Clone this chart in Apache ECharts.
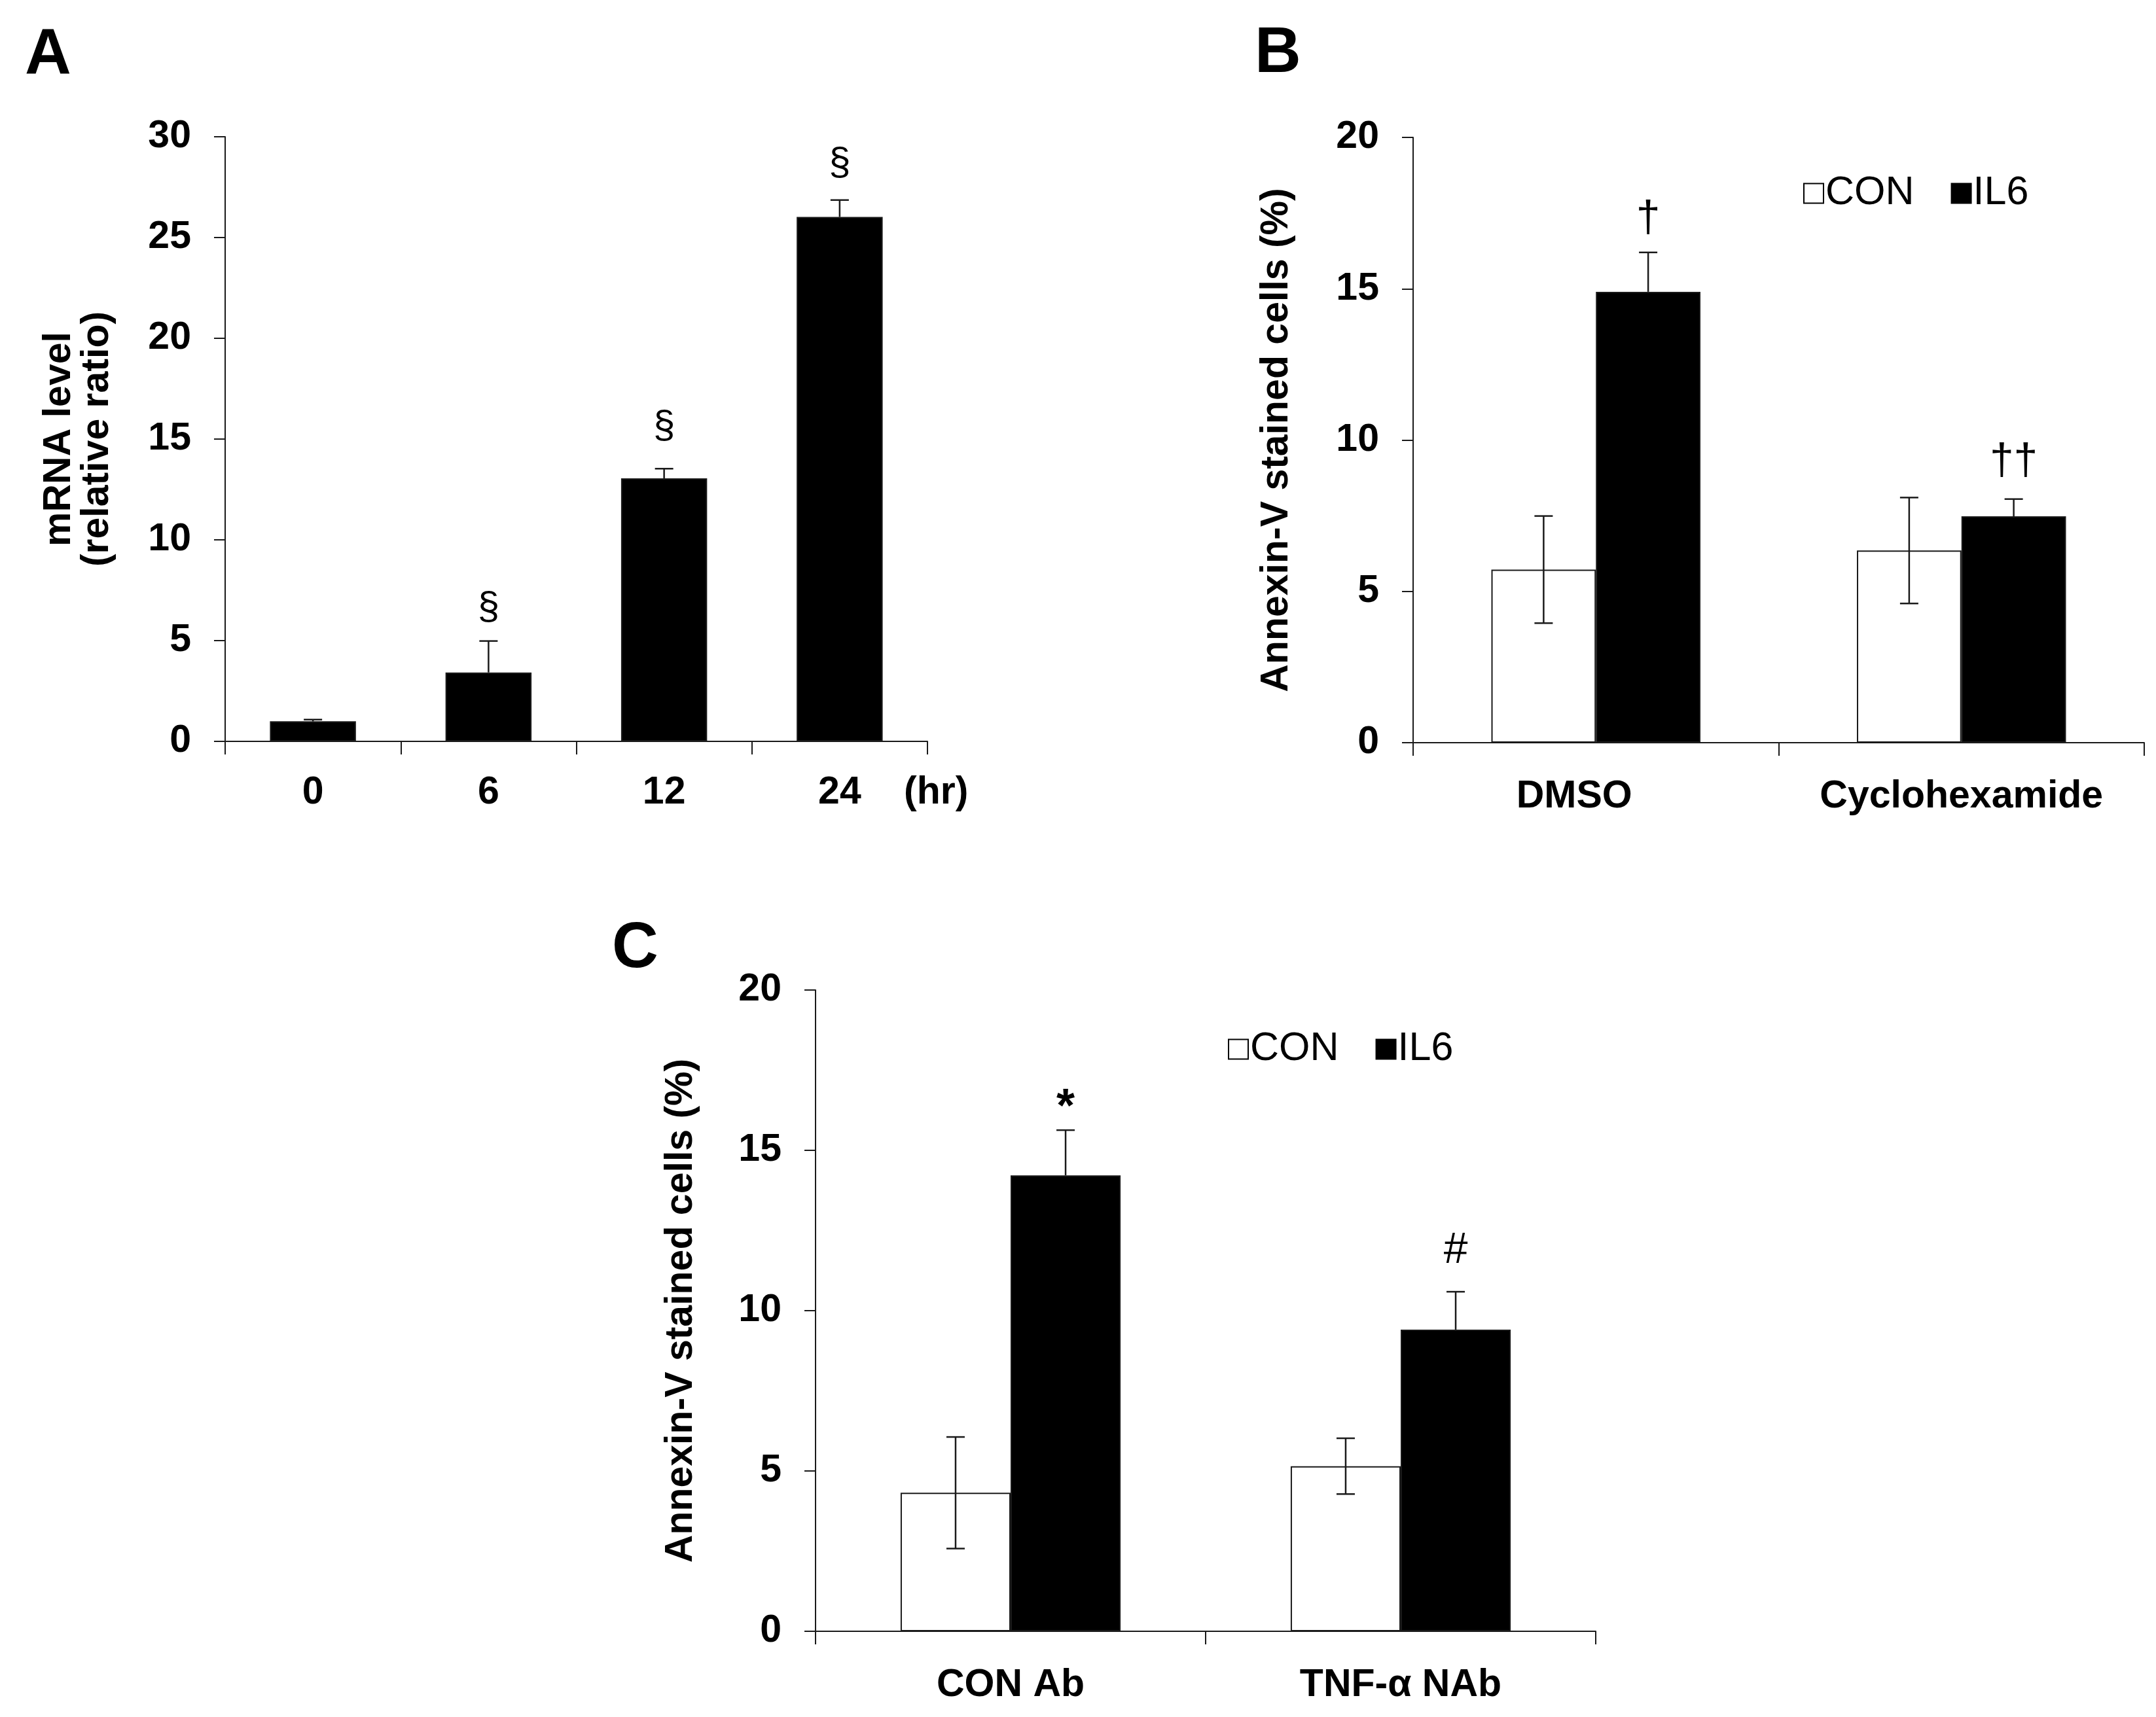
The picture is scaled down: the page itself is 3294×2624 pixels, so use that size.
<!DOCTYPE html>
<html>
<head>
<meta charset="utf-8">
<title>IL6 figure</title>
<script src="https://cdn.jsdelivr.net/npm/echarts@6/dist/echarts.min.js"></script>
<style>
  html, body { margin:0; padding:0; background:#fff; }
  #chart { width:3294px; height:2624px; }
</style>
</head>
<body>
<div id="chart"></div>
<script>
// panel A : mRNA time course
var timesA = ['0', '6', '12', '24'];
var mrnaMean = [1.0, 3.42, 13.05, 26.02];
var mrnaErr = [0.08, 1.56, 0.48, 0.84];
var mrnaMark = ['', '§', '§', '§'];
var mrnaMarkAt = [null, 6.6, 15.6, 28.65];

// panel B : DMSO / cyclohexamide
var groupsB = ['DMSO', 'Cyclohexamide'];
var conB = [5.72, 6.35];
var conBErr = [1.77, 1.75];
var il6B = [14.9, 7.48];
var il6BErr = [1.3, 0.57];
var markB = ['†', '††'];
var markBAt = [17.3, 9.27];

// panel C : antibodies
var groupsC = ['CON Ab', 'TNF-α NAb'];
var conC = [4.32, 5.15];
var conCErr = [1.74, 0.87];
var il6C = [14.22, 9.41];
var il6CErr = [1.41, 1.18];
var markC = ['*', '#'];
var markCAt = [16.3, 11.87];

var ticksA = [0, 30, 5];
var ticksBC = [0, 20, 5];

var FONT = "'Liberation Sans', Arial, sans-serif";
var INK = '#1a1a1a';

var chart = echarts.init(document.getElementById('chart'));

function yAxisOf(gi, t, name, gap){
  return {
    type:'value', gridIndex:gi, min:t[0], max:t[1], interval:t[2],
    name:name, nameLocation:'middle', nameGap:gap, nameRotate:90,
    nameTextStyle:{fontFamily:FONT, fontWeight:'bold', fontSize:59, lineHeight:58, color:'#000'},
    axisLine:{show:true, lineStyle:{color:INK, width:2}},
    axisTick:{show:true, length:17, lineStyle:{color:INK, width:2}},
    axisLabel:{margin:52, fontFamily:FONT, fontWeight:'bold', fontSize:59, color:'#000'},
    splitLine:{show:false}
  };
}

function xAxisOf(gi, cats, margin){
  return {
    type:'category', gridIndex:gi, data:cats,
    axisLine:{show:true, lineStyle:{color:INK, width:2}},
    axisTick:{show:true, length:20, lineStyle:{color:INK, width:2}},
    axisLabel:{margin:margin, fontFamily:FONT, fontWeight:'bold', fontSize:59, color:'#000', interval:0},
    splitLine:{show:false}
  };
}

// error bar: frac = bar width share of band, side = -1/0/1 shift, both = draw lower whisker
function errRender(frac, both){
  return function(params, api){
    var i = api.value(0), v = api.value(1), e = api.value(2), side = api.value(3);
    var band = api.size([1, 0])[0];
    var base = api.coord([i, v]);
    var x = base[0] + side * frac * band / 2;
    var top = api.coord([i, v + e])[1];
    var bot = both ? api.coord([i, v - e])[1] : base[1];
    var cap = 14;
    var st = {stroke:INK, lineWidth:2.5};
    var kids = [
      {type:'line', shape:{x1:x, y1:top, x2:x, y2:bot}, style:st},
      {type:'line', shape:{x1:x - cap, y1:top, x2:x + cap, y2:top}, style:st}
    ];
    if(both) kids.push({type:'line', shape:{x1:x - cap, y1:bot, x2:x + cap, y2:bot}, style:st});
    return {type:'group', children:kids};
  };
}

function markRender(frac, marks, size){
  return function(params, api){
    var i = api.value(0), at = api.value(1), side = api.value(2);
    var band = api.size([1, 0])[0];
    var p = api.coord([i, at]);
    var txt = marks[params.dataIndex];
    return {type:'text', style:{
      text:txt, x:p[0] + side * frac * band / 2, y:p[1],
      align:'center', verticalAlign:'middle',
      fontFamily:FONT, fontSize:(txt == '*' ? size + 6 : size),
      fontWeight:(txt == '*' ? 'bold' : 'normal'), fill:'#000'
    }};
  };
}

function errData(vals, errs, side){
  return vals.map(function(v, i){ return [i, v, errs[i], side]; });
}
function markData(ats, side){
  var out = [];
  ats.forEach(function(a, i){ out.push(a == null ? [i, 0, side] : [i, a, side]); });
  return out;
}

var fracB = 0.286, fracC = 0.282;

var conStyle = {color:'#fff', borderColor:INK, borderWidth:2};
var il6Style = {color:'#000', borderColor:INK, borderWidth:2};

function legendAt(left, top){
  return {
    left:left, top:top, orient:'horizontal', itemGap:56, itemWidth:30, itemHeight:30,
    icon:'rect', selectedMode:false, padding:0,
    textStyle:{fontFamily:FONT, fontSize:61, color:'#000', padding:[0,0,0,-2]},
    data:[
      {name:'CON', itemStyle:{color:'#fff', borderColor:'#000', borderWidth:2}},
      {name:'IL6', itemStyle:{color:'#000', borderColor:'#000', borderWidth:2}}
    ]
  };
}

// DMSO label sits a little left of its group centre in the original
var xB = xAxisOf(1, groupsB.map(function(g, i){
  return i == 0 ? {value:g, textStyle:{padding:[0, 66, 0, 0]}} : g;
}), 53);

var option = {
  backgroundColor:'#fff',
  animation:false,
  grid:[
    {left:344, top:209, width:1073, height:924},
    {left:2159, top:210, width:1117, height:925},
    {left:1246, top:1513, width:1192, height:980}
  ],
  xAxis:[
    xAxisOf(0, timesA, 49),
    xB,
    xAxisOf(2, groupsC, 53)
  ],
  yAxis:[
    yAxisOf(0, ticksA, 'mRNA level\n(relative ratio)', 166),
    yAxisOf(1, ticksBC, 'Annexin-V stained cells (%)', 179),
    yAxisOf(2, ticksBC, 'Annexin-V stained cells (%)', 176)
  ],
  legend:[legendAt(2755, 265), legendAt(1876, 1573)],
  graphic:[
    {type:'text', left:38, top:36, style:{text:'A', fontFamily:FONT, fontWeight:'bold', fontSize:98, fill:'#000'}},
    {type:'text', left:1917, top:34, style:{text:'B', fontFamily:FONT, fontWeight:'bold', fontSize:98, fill:'#000'}},
    {type:'text', left:935, top:1402, style:{text:'C', fontFamily:FONT, fontWeight:'bold', fontSize:98, fill:'#000'}},
    {type:'text', left:1381, top:1182, style:{text:'(hr)', fontFamily:FONT, fontWeight:'bold', fontSize:59, fill:'#000'}}
  ],
  series:[
    // A
    {type:'bar', name:'mRNA', xAxisIndex:0, yAxisIndex:0, data:mrnaMean, barWidth:'49%', itemStyle:il6Style},
    {type:'custom', xAxisIndex:0, yAxisIndex:0, renderItem:errRender(0, false), data:errData(mrnaMean, mrnaErr, 0), z:5},
    {type:'custom', xAxisIndex:0, yAxisIndex:0, renderItem:markRender(0, mrnaMark, 60), data:markData(mrnaMarkAt, 0), z:5},
    // B
    {type:'bar', name:'CON', xAxisIndex:1, yAxisIndex:1, data:conB, barWidth:(fracB * 100) + '%', barGap:'0%', itemStyle:conStyle},
    {type:'bar', name:'IL6', xAxisIndex:1, yAxisIndex:1, data:il6B, barWidth:(fracB * 100) + '%', barGap:'0%', itemStyle:il6Style},
    {type:'custom', xAxisIndex:1, yAxisIndex:1, renderItem:errRender(fracB, true), data:errData(conB, conBErr, -1), z:5},
    {type:'custom', xAxisIndex:1, yAxisIndex:1, renderItem:errRender(fracB, false), data:errData(il6B, il6BErr, 1), z:5},
    {type:'custom', xAxisIndex:1, yAxisIndex:1, renderItem:markRender(fracB, markB, 66), data:markData(markBAt, 1), z:5},
    // C
    {type:'bar', name:'CON', xAxisIndex:2, yAxisIndex:2, data:conC, barWidth:(fracC * 100) + '%', barGap:'0%', itemStyle:conStyle},
    {type:'bar', name:'IL6', xAxisIndex:2, yAxisIndex:2, data:il6C, barWidth:(fracC * 100) + '%', barGap:'0%', itemStyle:il6Style},
    {type:'custom', xAxisIndex:2, yAxisIndex:2, renderItem:errRender(fracC, true), data:errData(conC, conCErr, -1), z:5},
    {type:'custom', xAxisIndex:2, yAxisIndex:2, renderItem:errRender(fracC, false), data:errData(il6C, il6CErr, 1), z:5},
    {type:'custom', xAxisIndex:2, yAxisIndex:2, renderItem:markRender(fracC, markC, 66), data:markData(markCAt, 1), z:5}
  ]
};

chart.setOption(option);
</script>
</body>
</html>
